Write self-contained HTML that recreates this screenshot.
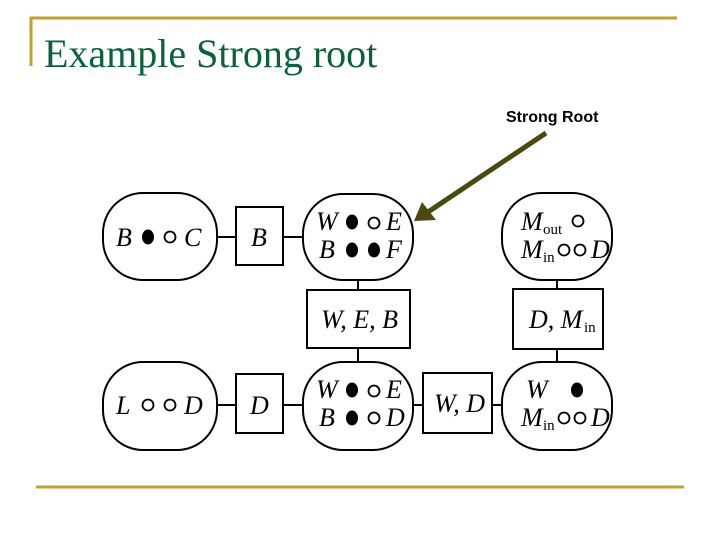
<!DOCTYPE html>
<html><head><meta charset="utf-8"><style>
html,body{margin:0;padding:0;background:#fff;}
svg{display:block}
.m{font-family:"Liberation Serif",serif;font-style:italic;font-size:26px;fill:#000}
.s{font-family:"Liberation Serif",serif;font-size:15px;fill:#000}
</style></head><body>
<svg width="720" height="540" viewBox="0 0 720 540" xmlns="http://www.w3.org/2000/svg">
<rect width="720" height="540" fill="#fff"/>
<line x1="30" y1="18" x2="677" y2="18" stroke="#c0a030" stroke-width="3"/>
<line x1="31" y1="17" x2="31" y2="66" stroke="#c0a030" stroke-width="3"/>
<line x1="36" y1="487" x2="684" y2="487" stroke="#c0a030" stroke-width="3"/>
<text x="44" y="67" font-family="Liberation Serif,serif" font-size="40" fill="#0b6138">Example Strong root</text>
<text x="506" y="122" font-family="Liberation Sans,sans-serif" font-size="16" font-weight="bold" fill="#000">Strong Root</text>
<line x1="546" y1="133" x2="428" y2="212" stroke="#4a4a10" stroke-width="5"/>
<polygon points="414,221 422,202 436,220" fill="#4a4a10"/>
<g fill="none" stroke="#000" stroke-width="2">
<!-- connectors -->
<line x1="217" y1="237" x2="236" y2="237"/><line x1="283" y1="237" x2="303" y2="237"/>
<line x1="358" y1="280" x2="358" y2="290"/><line x1="358" y1="348" x2="358" y2="362"/>
<line x1="557" y1="280" x2="557" y2="289"/><line x1="557" y1="349" x2="557" y2="362"/>
<line x1="217" y1="405" x2="236" y2="405"/><line x1="283" y1="405" x2="303" y2="405"/>
<line x1="413" y1="405" x2="423" y2="405"/><line x1="492" y1="405" x2="502" y2="405"/>
<!-- nodes -->
<rect x="103" y="193" width="114" height="87" rx="40"/>
<rect x="303" y="194" width="110" height="86" rx="40"/>
<rect x="502" y="193" width="110" height="87" rx="40"/>
<rect x="103" y="362" width="114" height="88" rx="40"/>
<rect x="303" y="362" width="110" height="88" rx="40"/>
<rect x="502" y="362" width="110" height="88" rx="40"/>
<!-- boxes -->
<rect x="236" y="207" width="47" height="58"/>
<rect x="307" y="290" width="103" height="58"/>
<rect x="513" y="289" width="90" height="60"/>
<rect x="236" y="374" width="47" height="59"/>
<rect x="423" y="373" width="69" height="60"/>
</g>
<!-- node 1 -->
<text class="m" x="116" y="246">B</text><ellipse cx="148" cy="237" rx="6" ry="7.5"/><circle cx="170" cy="237" r="5.5" fill="none" stroke="#000" stroke-width="1.8"/><text class="m" x="184" y="246">C</text>
<text class="m" x="251" y="246">B</text>
<!-- node 2 -->
<text class="m" x="316" y="230">W</text><ellipse cx="352" cy="222" rx="6" ry="7.5"/><circle cx="374" cy="223" r="5.5" fill="none" stroke="#000" stroke-width="1.8"/><text class="m" x="386" y="230">E</text>
<text class="m" x="319" y="258">B</text><ellipse cx="352" cy="250" rx="6" ry="7.5"/><ellipse cx="374" cy="250" rx="6" ry="7.5"/><text class="m" x="386" y="258">F</text>
<!-- Mout node -->
<text class="m" x="521" y="230">M</text><text class="s" x="543" y="234">out</text><circle cx="578" cy="221" r="5.5" fill="none" stroke="#000" stroke-width="1.8"/>
<text class="m" x="521" y="258">M</text><text class="s" x="543" y="262">in</text><circle cx="564" cy="250" r="5.5" fill="none" stroke="#000" stroke-width="1.8"/><circle cx="580" cy="250" r="5.5" fill="none" stroke="#000" stroke-width="1.8"/><text class="m" x="591" y="258">D</text>
<text class="m" x="321" y="328">W, E, B</text>
<text class="m" x="529" y="328">D, M</text><text class="s" x="584" y="332">in</text>
<!-- bottom row -->
<text class="m" x="116" y="414">L</text><circle cx="148" cy="405" r="5.5" fill="none" stroke="#000" stroke-width="1.8"/><circle cx="170" cy="405" r="5.5" fill="none" stroke="#000" stroke-width="1.8"/><text class="m" x="184" y="414">D</text>
<text class="m" x="250" y="414">D</text>
<text class="m" x="316" y="398">W</text><ellipse cx="352" cy="390" rx="6" ry="7.5"/><circle cx="374" cy="391" r="5.5" fill="none" stroke="#000" stroke-width="1.8"/><text class="m" x="386" y="398">E</text>
<text class="m" x="319" y="426">B</text><ellipse cx="352" cy="418" rx="6" ry="7.5"/><circle cx="374" cy="418" r="5.5" fill="none" stroke="#000" stroke-width="1.8"/><text class="m" x="386" y="426">D</text>
<text class="m" x="434" y="412">W, D</text>
<text class="m" x="526" y="398">W</text><ellipse cx="577" cy="390" rx="6" ry="7.5"/>
<text class="m" x="521" y="426">M</text><text class="s" x="543" y="430">in</text><circle cx="564" cy="418" r="5.5" fill="none" stroke="#000" stroke-width="1.8"/><circle cx="580" cy="418" r="5.5" fill="none" stroke="#000" stroke-width="1.8"/><text class="m" x="591" y="426">D</text>
</svg>
</body></html>
